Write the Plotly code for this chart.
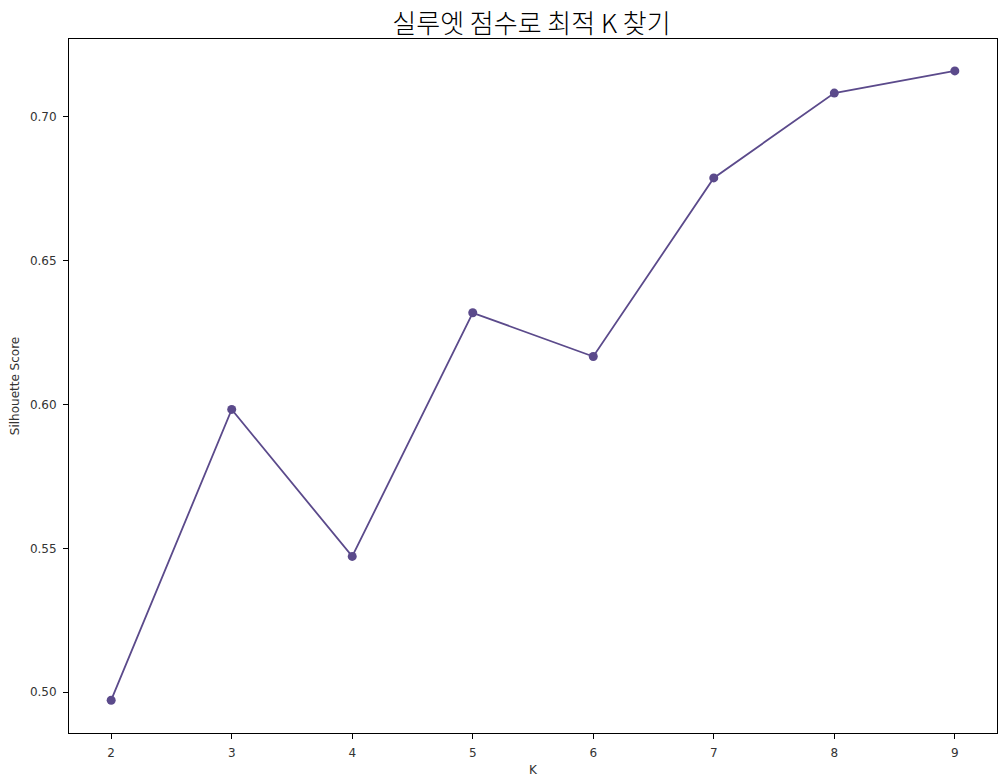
import plotly.graph_objects as go

# silhouette score per number of clusters
k_values = [2, 3, 4, 5, 6, 7, 8, 9]
silhouette = [0.4972, 0.5983, 0.5472, 0.6319, 0.6167, 0.6788, 0.7083, 0.7160]

y_ticks = [0.50, 0.55, 0.60, 0.65, 0.70]
y_tick_labels = ['0.50', '0.55', '0.60', '0.65', '0.70']

COLOR = '#5b4a8b'
FONT = 'DejaVu Sans, Noto Sans CJK KR, sans-serif'

fig = go.Figure()
fig.add_trace(go.Scatter(
    x=k_values,
    y=silhouette,
    mode='lines+markers',
    line=dict(color=COLOR, width=1.8),
    marker=dict(color=COLOR, size=9),
    showlegend=False,
))

axis_style = dict(
    showline=True, linecolor='black', linewidth=1, mirror=True,
    showgrid=False, zeroline=False, automargin=False,
    ticks='outside', ticklen=5, tickcolor='black',
    ticklabelstandoff=4,
    tickfont=dict(size=12, color='#333333'),
)

fig.update_layout(
    width=1006, height=783,
    margin=dict(l=61, r=17, t=31, b=58),
    plot_bgcolor='white', paper_bgcolor='white',
    font=dict(family=FONT, color='#333333'),
    title=dict(text='실루엣 점수로 최적 K 찾기', x=0.5204, xanchor='center',
               y=0.98, yanchor='middle',
               font=dict(family='Noto Sans CJK KR', size=26, weight=300,
                         color='black')),
    xaxis=dict(axis_style, range=[1.65, 9.35], tickvals=k_values,
               title=dict(text='K', font=dict(size=12), standoff=6)),
    yaxis=dict(axis_style, range=[0.4858, 0.7271], tickvals=y_ticks,
               ticktext=y_tick_labels,
               title=dict(text='Silhouette Score', font=dict(size=12), standoff=10)),
)

fig.write_html("out.html")
